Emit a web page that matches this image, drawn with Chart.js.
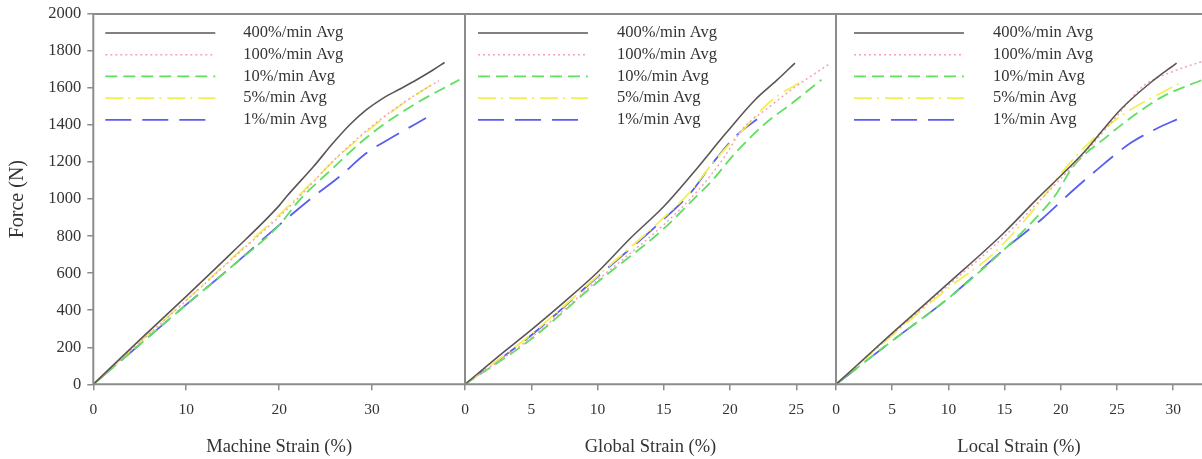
<!DOCTYPE html>
<html>
<head>
<meta charset="utf-8">
<script src="https://cdn.jsdelivr.net/npm/chart.js@4.4.0/dist/chart.umd.min.js"></script>
<style>
  html,body{margin:0;padding:0;background:#fff;overflow:hidden}
  #wrap{position:relative;width:1202px;height:459px}
  #wrap canvas{position:absolute;left:0;top:0}
</style>
</head>
<body>
<div id="wrap">
  <canvas id="c1" width="1202" height="459"></canvas>
  <canvas id="c2" width="1202" height="459"></canvas>
  <canvas id="c3" width="1202" height="459"></canvas>
</div>
<script>
// --- data (strain %, force N) ---
const seriesNames = ['400%/min Avg','100%/min Avg','10%/min Avg','5%/min Avg','1%/min Avg'];
const yTicks = [0,200,400,600,800,1000,1200,1400,1600,1800,2000];

// machine strain
const machTicks = [0,10,20,30];
const mach400 = [[0,0],[5,240],[10,475],[15,715],[20,965],[20.8,1014],[23.7,1176],[25.8,1303],[27.6,1402],[29.4,1483],[31.2,1546],[33,1595],[34.8,1645],[36.6,1699],[37.8,1738]];
const mach100 = [[0,0],[5,226],[10,452],[15,680],[20,905],[22.3,1020],[26,1215],[30,1395],[33.8,1535],[37.2,1640]];
const mach10  = [[0,0],[5,215],[10,430],[15,640],[20,860],[22.2,996],[25.8,1168],[28.7,1303],[31.2,1402],[34.8,1519],[39.4,1645]];
const mach5   = [[0,0],[5,228],[10,455],[15,685],[20,915],[22,1014],[26.2,1222],[30.1,1392],[33.9,1537],[36.7,1627]];
const mach1   = [[0,0],[5,215],[10,430],[15,640],[20,860],[23.7,1014],[26.5,1122],[29.4,1249],[32.3,1338],[35.8,1438]];

// global strain
const globTicks = [0,5,10,15,20,25];
const glob400 = [[0,0],[2.5,150],[5,294],[7.5,445],[10,605],[12.5,790],[15,960],[17.2,1140],[19.7,1357],[21.9,1537],[23.5,1640],[24.9,1735]];
const glob100 = [[0,0],[5,252],[10,562],[15,862],[17.5,1040],[19.5,1220],[20.9,1375],[23,1500],[25,1610],[27.6,1735]];
const glob10  = [[0,0],[4.9,239],[9.9,546],[14.9,834],[17.2,996],[18.7,1104],[20.4,1249],[22.7,1411],[24.7,1519],[26.9,1645]];
const glob5   = [[0,0],[5,270],[10,585],[15,900],[17,1040],[18.7,1195],[21.2,1392],[23.2,1537],[25.2,1627]];
const glob1   = [[0,0],[5,265],[9.9,574],[14.8,879],[17,1032],[18.7,1195],[20.4,1338],[22.2,1440]];

// local strain
const locTicks = [0,5,10,15,20,25,30];
const loc400 = [[0,0],[5,276],[10,546],[14.9,816],[17.8,996],[22,1249],[25.3,1483],[28,1630],[30.3,1735]];
const loc100 = [[0,0],[5,270],[10,535],[15,800],[18,985],[22,1240],[25,1450],[27.3,1609],[30,1690],[32.6,1744]];
const loc10  = [[0,0],[5,235],[10,465],[15,730],[17.5,880],[19.5,1020],[21.1,1176],[24.1,1338],[26.8,1465],[29.1,1555],[32.6,1645]];
const loc5   = [[0,0],[5,265],[10,520],[13.7,690],[17,900],[20.8,1195],[24.1,1392],[26.2,1483],[28.5,1560],[30.6,1627]];
const loc1   = [[0,0],[5,235],[10,465],[14.9,726],[18.4,897],[20.8,1032],[23.2,1158],[26.2,1303],[28.5,1380],[30.6,1438]];

// --- styling ---
const AXIS = '#8c8c8c';
const TXT = '#333';
const SERIF = '"Liberation Serif", serif';
const styles = [
  {borderColor:'#5d5555', borderDash:[], borderWidth:1.6},
  {borderColor:'#f4a3b3', borderDash:[2,3], borderWidth:1.5},
  {borderColor:'#5fe05f', borderDash:[12,6], borderWidth:1.8},
  {borderColor:'#f0f055', borderDash:[18,5,2,6], borderWidth:1.8},
  {borderColor:'#5a5ef0', borderDash:[26,11], borderWidth:1.8}
];

// draws the panel frame
const frame = {
  id:'frame',
  afterDatasetsDraw(chart, args, opts){
    const {ctx, chartArea:a} = chart;
    ctx.save();
    ctx.strokeStyle = AXIS; ctx.lineWidth = 2;
    ctx.beginPath();
    ctx.moveTo(a.left, a.bottom); ctx.lineTo(a.left, a.top); ctx.lineTo(a.right, a.top);
    if(opts.right!==false){ ctx.lineTo(a.right, a.bottom); } else { ctx.moveTo(a.right, a.bottom); }
    ctx.lineTo(a.left, a.bottom);
    ctx.stroke();
    ctx.restore();
  }
};

// legend inside the plot, top-left
const innerLegend = {
  id:'innerLegend',
  afterDraw(chart, args, opts){
    const {ctx, chartArea:a} = chart;
    ctx.save();
    ctx.font = '16.5px ' + SERIF;
    ctx.fillStyle = TXT;
    ctx.textBaseline = 'middle';
    chart.data.datasets.forEach((ds,i)=>{
      const y = a.top + 19 + i*21.7;
      const x0 = a.left + opts.x;
      ctx.strokeStyle = ds.borderColor; ctx.lineWidth = ds.borderWidth;
      ctx.setLineDash(ds.borderDash);
      ctx.beginPath(); ctx.moveTo(x0, y); ctx.lineTo(x0 + 110, y); ctx.stroke();
      ctx.setLineDash([]);
      ctx.fillText(ds.label, a.left + opts.tx, y);
    });
    ctx.restore();
  }
};

function makePanel(id, series, ticks, xmax, title, pad, showY, legendPos, rightEdge){
  const datasets = series.map((d,i)=>Object.assign({
    label: seriesNames[i],
    data: d.map(p=>({x:p[0], y:p[1]})),
    pointRadius:0, fill:false, cubicInterpolationMode:'monotone'
  }, styles[i]));
  new Chart(document.getElementById(id), {
    type:'line',
    data:{datasets},
    plugins:[frame, innerLegend],
    options:{
      responsive:false, animation:false, events:[],
      layout:{padding:{left:pad.left, right:pad.right, top:14, bottom:0}},
      plugins:{legend:{display:false}, tooltip:{enabled:false},
        frame:{right:rightEdge}, innerLegend:legendPos},
      scales:{
        x:{type:'linear', min:0, max:xmax,
          afterBuildTicks: s => { s.ticks = ticks.map(v=>({value:v})); },
          afterFit: s => { s.height = 74.7; },
          border:{display:false},
          grid:{drawOnChartArea:false, drawTicks:true, tickLength:6, color:AXIS, lineWidth:1.5},
          ticks:{padding:10, color:TXT, font:{family:SERIF, size:15.5}, callback:v=>String(v)},
          title:{display:true, text:title, color:TXT, padding:{top:0,bottom:1},
            font:{family:SERIF, size:18.5}}
        },
        y:{type:'linear', min:0, max:2000, display:showY,
          afterBuildTicks: s => { s.ticks = yTicks.map(v=>({value:v})); },
          afterFit: s => { s.width = showY ? 93.3 : 0; s.paddingTop = 0; s.paddingBottom = 0; },
          border:{display:false},
          grid:{drawOnChartArea:false, drawTicks:true, tickLength:6, color:AXIS, lineWidth:1.5},
          ticks:{padding:6, color:TXT, font:{family:SERIF, size:16.5}, callback:v=>String(v)},
          title:{display:true, text:'Force (N)', color:TXT, padding:{top:6,bottom:0},
            font:{family:SERIF, size:20}}
        }
      }
    }
  });
}

makePanel('c1', [mach400,mach100,mach10,mach5,mach1], machTicks, 40, 'Machine Strain (%)',
  {left:0, right:1202-465}, true, {x:12, tx:150}, true);
makePanel('c2', [glob400,glob100,glob10,glob5,glob1], globTicks, 28, 'Global Strain (%)',
  {left:465, right:1202-836}, false, {x:13, tx:152}, true);
makePanel('c3', [loc400,loc100,loc10,loc5,loc1], locTicks, 32.56, 'Local Strain (%)',
  {left:836, right:0}, false, {x:18, tx:157}, false);
</script>
</body>
</html>
